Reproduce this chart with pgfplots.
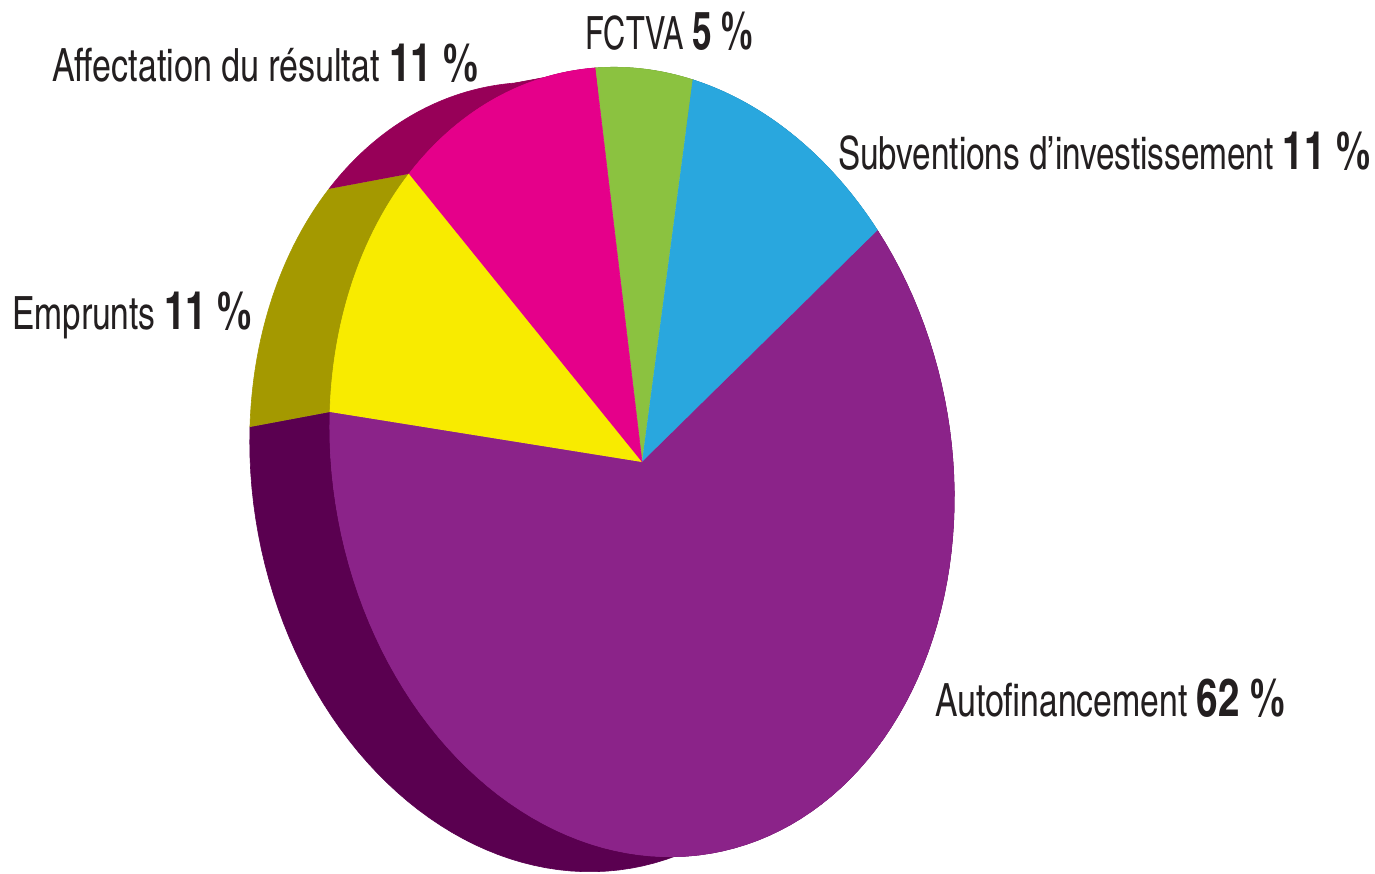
\documentclass[border=0pt]{standalone}
\usepackage{fontspec}
\setmainfont{texgyreheroscn}[Extension=.otf, UprightFont=*-regular, BoldFont=*-bold]
\usepackage{pgfplots}
\usepackage{pgfplotstable}
\pgfplotsset{compat=1.18}

\definecolor{cPur}{RGB}{139,35,137}
\definecolor{cPurD}{RGB}{90,0,80}
\definecolor{cYel}{RGB}{248,235,0}
\definecolor{cYelD}{RGB}{164,153,0}
\definecolor{cPink}{RGB}{229,0,138}
\definecolor{cPinkD}{RGB}{151,0,88}
\definecolor{cGreen}{RGB}{139,194,64}
\definecolor{cGreenD}{RGB}{90,130,40}
\definecolor{cBlue}{RGB}{41,167,222}
\definecolor{cBlueD}{RGB}{20,110,150}
\definecolor{cText}{RGB}{35,31,32}

\pgfplotstableread{
label value
FCTVA 5
Subventions 11
Autofinancement 62
Emprunts 11
Affectation 11
}\piedata

% label: width, regular text, bold number
\newcommand{\lab}[3]{\resizebox{#1bp}{\height}{#2 {\fontsize{53}{58}\selectfont\bfseries #3}}}

\begin{document}
\begin{tikzpicture}
\pgfplotstablegetelem{0}{value}\of\piedata \pgfmathsetmacro\vA{\pgfplotsretval}
\pgfplotstablegetelem{1}{value}\of\piedata \pgfmathsetmacro\vB{\pgfplotsretval}
\pgfplotstablegetelem{2}{value}\of\piedata \pgfmathsetmacro\vC{\pgfplotsretval}
\pgfplotstablegetelem{3}{value}\of\piedata \pgfmathsetmacro\vD{\pgfplotsretval}
\pgfplotstablegetelem{4}{value}\of\piedata \pgfmathsetmacro\vE{\pgfplotsretval}
\pgfmathsetmacro\aA{90}
\pgfmathsetmacro\aB{\aA-3.6*\vA}
\pgfmathsetmacro\aC{\aB-3.6*\vB}
\pgfmathsetmacro\aD{\aC-3.6*\vC}
\pgfmathsetmacro\aE{\aD-3.6*\vD}
\pgfmathsetmacro\aF{\aE-3.6*\vE}
\begin{axis}[
  width=1375bp, height=874bp, scale only axis, hide axis,
  xmin=0, xmax=1375, ymin=0, ymax=874, y dir=reverse, clip=false,
  declare function={
    bT(\s,\p,\q)=\p+min(\s,1,2.1-\s)*(\q-\p);
    bx(\s,\p,\q)=642-80*(\s>1.05)+308.7*cos(bT(\s,\p,\q))-47*sin(bT(\s,\p,\q));
    by(\s,\p,\q)=462+15*(\s>1.05)-24.2*cos(bT(\s,\p,\q))-394*sin(bT(\s,\p,\q));
    sT(\s,\p,\q)=\p+min(\s,1)*(\q-\p);
    sx(\s,\p,\q)=642+(\s<1.05)*(308.7*cos(sT(\s,\p,\q))-47*sin(sT(\s,\p,\q)));
    sy(\s,\p,\q)=462-(\s<1.05)*(24.2*cos(sT(\s,\p,\q))+394*sin(sT(\s,\p,\q)));
  },
  every axis plot/.append style={line width=0.6pt, mark=none, variable=\u},
  wall/.style={domain=0:2.1, samples=211},
  face/.style={domain=0:1.1, samples=111},
]
\path (axis cs:0,0) (axis cs:1375,874);
% side walls
\addplot[wall, draw=cGreenD, fill=cGreenD] ({bx(\u,\aA,\aB)},{by(\u,\aA,\aB)});
\addplot[wall, draw=cBlueD, fill=cBlueD] ({bx(\u,\aB,\aC)},{by(\u,\aB,\aC)});
\addplot[wall, draw=cPurD, fill=cPurD] ({bx(\u,\aC,\aD)},{by(\u,\aC,\aD)});
\addplot[wall, draw=cYelD, fill=cYelD] ({bx(\u,\aD,\aE)},{by(\u,\aD,\aE)});
\addplot[wall, draw=cPinkD, fill=cPinkD] ({bx(\u,\aE,\aF)},{by(\u,\aE,\aF)});
% top faces
\addplot[face, draw=cGreen, fill=cGreen] ({sx(\u,\aA,\aB)},{sy(\u,\aA,\aB)});
\addplot[face, draw=cBlue, fill=cBlue] ({sx(\u,\aB,\aC)},{sy(\u,\aB,\aC)});
\addplot[face, draw=cPur, fill=cPur] ({sx(\u,\aC,\aD)},{sy(\u,\aC,\aD)});
\addplot[face, draw=cYel, fill=cYel] ({sx(\u,\aD,\aE)},{sy(\u,\aD,\aE)});
\addplot[face, draw=cPink, fill=cPink] ({sx(\u,\aE,\aF)},{sy(\u,\aE,\aF)});
% labels
\begin{scope}[every node/.style={anchor=base west, inner sep=0pt, text=cText, font=\fontsize{46}{50}\selectfont}]
\node at (axis cs:52,82) {\lab{426}{Affectation du résultat}{11 \%}};
\node at (axis cs:585,50) {\lab{168}{FCTVA}{5 \%}};
\node at (axis cs:838,170) {\lab{532}{Subventions d’investissement}{11 \%}};
\node at (axis cs:12,330) {\lab{240}{Emprunts}{11 \%}};
\node at (axis cs:935,716) {\lab{350}{Autofinancement}{62 \%}};
\end{scope}
\end{axis}
\pgfresetboundingbox
\useasboundingbox (current axis.south west) rectangle (current axis.north east);
\end{tikzpicture}
\end{document}
